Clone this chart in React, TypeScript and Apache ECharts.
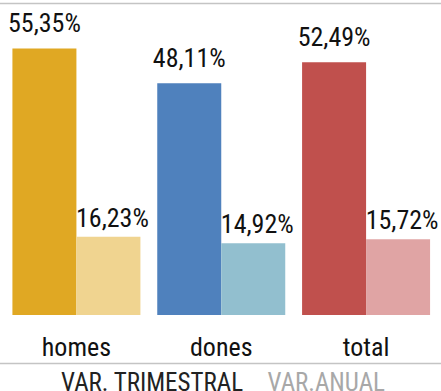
import React, { useEffect, useRef } from "react";
import * as echarts from "echarts";

const categories = ["homes", "dones", "total"];
const seriesNames = ["VAR. TRIMESTRAL", "VAR.ANUAL"];
const quarterly = [55.35, 48.11, 52.49];
const annual = [16.23, 14.92, 15.72];
const darkColors = ["#E0A823", "#4F81BD", "#C0504D"];
const lightColors = ["#F0D490", "#92BFCF", "#E0A4A4"];

const FONT = "'Liberation Sans Narrow', 'Arial Narrow', 'Roboto Condensed', sans-serif";

const fmt = (v: number) => v.toFixed(2).replace(".", ",") + "%";

export default function App() {
  const ref = useRef<HTMLDivElement>(null);
  useEffect(() => {
    if (!ref.current) return;
    const chart = echarts.init(ref.current, null, { renderer: "svg" });
    chart.setOption({
      animation: false,
      grid: { left: 4, right: 2.5, top: 26, bottom: 76, containLabel: false },
      legend: {
        bottom: 0,
        left: "center",
        top: 365,
        icon: "none",
        itemWidth: 0,
        itemHeight: 0,
        itemGap: 19,
        selectedMode: false,
        textStyle: { fontFamily: FONT, fontSize: 25, padding: 0 },
        data: [
          { name: seriesNames[0], textStyle: { color: "#222222" } },
          { name: seriesNames[1], textStyle: { color: "#A8A8A8" } },
        ],
      },
      xAxis: {
        type: "category",
        data: categories,
        axisLine: { show: false },
        axisTick: { show: false },
        axisLabel: { color: "#111111", fontFamily: FONT, fontSize: 26, margin: 19 },
      },
      yAxis: {
        type: "value",
        min: 0,
        max: 60,
        show: false,
        splitLine: { show: false },
      },
      series: [
        {
          name: seriesNames[0],
          type: "bar",
          barWidth: 64,
          barGap: "0%",
          data: quarterly.map((v, i) => ({ value: v, itemStyle: { color: darkColors[i] } })),
          itemStyle: { color: darkColors[0] },
          label: {
            show: true,
            position: "top",
            distance: 12,
            color: "#111111",
            fontFamily: FONT,
            fontSize: 26,
            formatter: (p: any) => fmt(p.value),
          },
        },
        {
          name: seriesNames[1],
          type: "bar",
          barWidth: 64,
          barGap: "0%",
          data: annual.map((v, i) => ({ value: v, itemStyle: { color: lightColors[i] } })),
          itemStyle: { color: lightColors[0] },
          label: {
            show: true,
            position: "top",
            distance: 6,
            color: "#111111",
            fontFamily: FONT,
            fontSize: 26,
            offset: [4, 0],
            formatter: (p: any) => fmt(p.value),
          },
        },
      ],
      graphic: [
        {
          type: "line",
          shape: { x1: 0, y1: 3.5, x2: 441, y2: 3.5 },
          style: { stroke: "#C4C4C4", lineWidth: 1.6 },
        },
        {
          type: "line",
          shape: { x1: 0, y1: 363.5, x2: 441, y2: 363.5 },
          style: { stroke: "#C4C4C4", lineWidth: 1.6 },
        },
      ],
    });
    return () => chart.dispose();
  }, []);
  return (
    <div
      ref={ref}
      style={{ position: "fixed", left: 0, top: 0, width: 441, height: 391, background: "#fff" }}
    />
  );
}
